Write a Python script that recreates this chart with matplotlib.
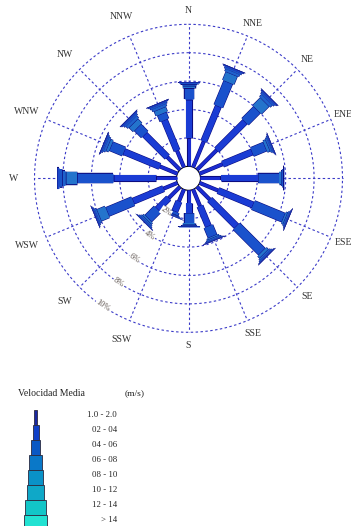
import numpy as np
import matplotlib
matplotlib.use('Agg')
import matplotlib.pyplot as plt
import matplotlib.patheffects as pe

plt.rcParams['font.family'] = ['Liberation Serif', 'DejaVu Serif']

directions = ['N', 'NNE', 'NE', 'ENE', 'E', 'ESE', 'SE', 'SSE',
              'S', 'SSW', 'SW', 'WSW', 'W', 'WNW', 'NW', 'NNW']
speed_classes = ['1.0 - 2.0', '02 - 04', '04 - 06', '06 - 08',
                 '08 - 10', '10 - 12', '12 - 14', '> 14']

# frequency (%) of each speed class per direction
c_01_02 = [1.97, 1.97, 1.97, 1.76, 1.41, 1.41, 1.27, 1.27, 0.92, 0.92, 1.13, 1.06, 1.41, 1.34, 1.27, 1.27]
c_02_04 = [2.75, 2.68, 2.82, 2.25, 2.67, 2.67, 2.67, 1.55, 0.70, 0.77, 1.12, 2.32, 3.06, 2.74, 2.25, 2.32]
c_04_06 = [0.77, 1.83, 1.20, 0.99, 1.48, 2.33, 2.54, 0.77, 0.70, 0.21, 0.92, 1.97, 2.54, 0.99, 0.71, 0.49]
c_06_08 = [0.21, 0.63, 0.77, 0.21, 0.14, 0.14, 0.21, 0.11, 0.11, 0.04, 0.14, 0.64, 0.84, 0.21, 0.42, 0.36]
c_08_10 = [0.10, 0.17, 0.20, 0.11, 0.06, 0.08, 0.11, 0.08, 0.06, 0.04, 0.10, 0.11, 0.24, 0.14, 0.20, 0.17]
c_10_12 = [0.08, 0.13, 0.15, 0.08, 0.04, 0.06, 0.08, 0.06, 0.04, 0.03, 0.08, 0.08, 0.18, 0.10, 0.15, 0.13]
c_12_14 = [0.05, 0.09, 0.10, 0.06, 0.03, 0.04, 0.06, 0.04, 0.03, 0.02, 0.05, 0.06, 0.12, 0.07, 0.10, 0.08]
c_gt_14 = [0.03, 0.04, 0.04, 0.03, 0.02, 0.03, 0.03, 0.03, 0.01, 0.01, 0.02, 0.03, 0.06, 0.04, 0.04, 0.04]

rings = [2, 4, 6, 8, 10]
ring_labels = ['2%', '4%', '6%', '8%', '10%']

# styles
class_colors = ['#1a28a0', '#1040c8', '#0a58c4', '#0a78c8',
                '#0a92c8', '#0fa8c8', '#12c6c8', '#22e2d2']
rose_colors = ['#1a2cd0', '#1a3cd4', '#1a52cc', '#2474cc',
               '#1f62cc', '#1a54c8', '#1a48c8', '#1a40c4']
class_widths_px = [3, 6, 9.3, 12.3, 15, 17.7, 21, 23.3]
edge_col = '#0c0c80'
grid_col = '#3a3ac8'

series = [c_01_02, c_02_04, c_04_06, c_06_08, c_08_10, c_10_12, c_12_14, c_gt_14]
data = np.array(series)  # shape (8, 16)

W, H = 351, 526
fig = plt.figure(figsize=(W / 100, H / 100), dpi=100)

cx, cy, R = 188.5, 178.3, 154.0
ax = fig.add_axes([(cx - R) / W, (H - cy - R) / H, 2 * R / W, 2 * R / H],
                  projection='polar')
ax.set_theta_zero_location('N')
ax.set_theta_direction(-1)
ax.set_ylim(0, 10)
ax.set_rorigin(-0.845)
ax.set_xticks([])
ax.set_yticks([])
ax.grid(False)
ax.spines['polar'].set_visible(False)
ax.patch.set_visible(False)

thetas = np.deg2rad(np.arange(16) * 22.5)

# grid
circ = np.linspace(0, 2 * np.pi, 721)
for r in rings:
    ax.plot(circ, np.full_like(circ, r), color=grid_col, lw=0.8,
            ls=(0, (2.2, 2.2)), clip_on=False, zorder=1)
for th in thetas:
    ax.plot([th, th], [0, 10], color=grid_col, lw=0.8,
            ls=(0, (2.2, 2.2)), clip_on=False, zorder=1)

# bars
px2pt = 72.0 / 100.0
edge_len = 0.035
n_cls = len(series)
for j, th in enumerate(thetas):
    cum = 0.0
    for i in range(n_cls):
        v = data[i, j]
        w = class_widths_px[i] * px2pt
        ax.plot([th, th], [cum, cum + v], color=rose_colors[i], lw=w,
                solid_capstyle='butt', clip_on=False, zorder=3 + i * 0.01,
                path_effects=[pe.Stroke(linewidth=w + 0.8, foreground=edge_col),
                              pe.Normal()])
        if i < 4 or i == n_cls - 1:
            ax.plot([th, th], [cum + v - min(edge_len, v), cum + v],
                    color=edge_col, lw=w + 0.8, solid_capstyle='butt',
                    clip_on=False, zorder=3.005 + i * 0.01)
        cum += v

# direction labels
for th, lab in zip(thetas, directions):
    r = 11.45 if np.sin(th) < -0.1 else 10.95
    ax.text(th, r, lab, ha='center', va='center', fontsize=7,
            color='#333333', clip_on=False)

# ring labels
lab_th = np.deg2rad(214)
for r, lab in zip(rings, ring_labels):
    ax.text(lab_th, r, lab, ha='center', va='center', fontsize=6,
            rotation=-34, rotation_mode='anchor', color='#5e5450',
            bbox=dict(fc='white', ec='none', pad=0.2), clip_on=False, zorder=6)

# legend
lax = fig.add_axes([0, 0, 1, 1])
lax.set_xlim(0, W)
lax.set_ylim(H, 0)
lax.set_axis_off()
lax.patch.set_visible(False)
seg_h = 15
bottoms = [410 + seg_h * i for i in range(n_cls)]
lax.bar([35.5] * n_cls, [seg_h] * n_cls,
        bottom=bottoms, width=class_widths_px, color=class_colors,
        edgecolor='#2a2a40', linewidth=0.6)
lax.text(18, 393, 'Velocidad Media', ha='left', va='center', fontsize=7,
         color='#222222')
lax.text(125, 393, '(m/s)', ha='left', va='center', fontsize=6.8,
         color='#222222')
for b, lab in zip(bottoms, speed_classes):
    lax.text(117, b + 5, lab, ha='right', va='center', fontsize=6.3,
             color='#222222')

fig.savefig('out.png', dpi=100)
